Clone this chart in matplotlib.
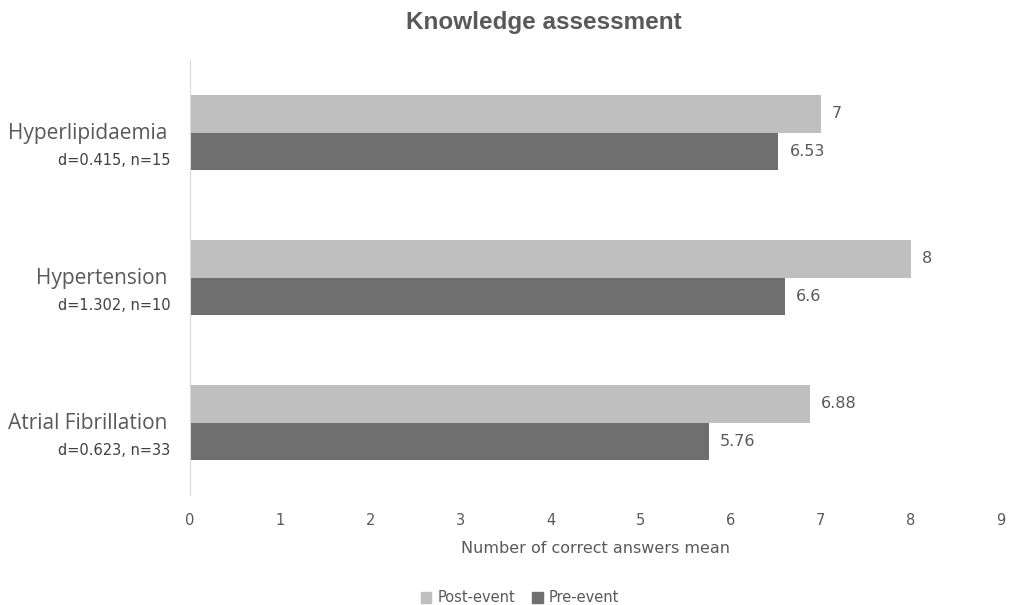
import matplotlib
matplotlib.use("Agg")
import matplotlib.pyplot as plt
from matplotlib.patches import Patch
from matplotlib import font_manager as fm
import numpy as np

categories = ["Atrial Fibrillation", "Hypertension", "Hyperlipidaemia"]
stats = ["d=0.623, n=33", "d=1.302, n=10", "d=0.415, n=15"]
post_event = [6.88, 8, 7]
pre_event = [5.76, 6.6, 6.53]
post_labels = ["6.88", "8", "7"]
pre_labels = ["5.76", "6.6", "6.53"]
xticks = list(range(0, 10))

TXT = "#595959"
C_POST = "#bfbfbf"
C_PRE = "#6f6f6f"

title_prop = None
for f in fm.findSystemFonts():
    if f.endswith("LiberationSans-Bold.ttf"):
        title_prop = fm.FontProperties(fname=f, size=17.5)
        break
if title_prop is None:
    title_prop = fm.FontProperties(family="DejaVu Sans", weight="bold", size=16)

fig = plt.figure(figsize=(10.11, 6.05), dpi=100)
ax = fig.add_axes([190/1011, 1-495/605, (1001-190)/1011, 435/605])

y = np.arange(len(categories))
h = 0.262
ax.barh(y + h/2, post_event, height=h, color=C_POST, label="Post-event")
ax.barh(y - h/2, pre_event, height=h, color=C_PRE, label="Pre-event")

for yi, v, lab in zip(y, post_event, post_labels):
    ax.annotate(lab, (v, yi + h/2), xytext=(8, 0), textcoords="offset points",
                va="center", ha="left", fontsize=11.5, color=TXT)
for yi, v, lab in zip(y, pre_event, pre_labels):
    ax.annotate(lab, (v, yi - h/2), xytext=(8, 0), textcoords="offset points",
                va="center", ha="left", fontsize=11.5, color=TXT)

ax.set_xlim(0, 9)
ax.set_ylim(-0.5, len(categories) - 0.5)
ax.set_xticks(xticks)
ax.set_xticklabels([str(t) for t in xticks], fontsize=10.5, color=TXT)
ax.set_yticks([])
ax.tick_params(axis="x", length=0, pad=13)
for s in ["top", "right", "bottom"]:
    ax.spines[s].set_visible(False)
ax.spines["left"].set_color("#d9d9d9")

for yi, cat, st in zip(y, categories, stats):
    ax.annotate(cat, (0, yi), xycoords=("axes fraction", "data"), xytext=(-16, -1),
                textcoords="offset points", ha="right", va="center",
                fontsize=15, color=TXT, family="Open Sans")
    ax.annotate(st, (0, yi), xycoords=("axes fraction", "data"), xytext=(-14, -20),
                textcoords="offset points", ha="right", va="center",
                fontsize=10.5, color="#404040", family="DejaVu Sans")

ax.set_xlabel("Number of correct answers mean", fontsize=11.5, color=TXT, labelpad=9)

fig.text(544/1011, 1-23/605, "Knowledge assessment", ha="center", va="center",
         fontproperties=title_prop, color=TXT)

handles = [Patch(color=C_POST, label="Post-event"), Patch(color=C_PRE, label="Pre-event")]
fig.legend(handles=handles, loc="center", bbox_to_anchor=(520/1011, 1-598/605), ncol=2,
           frameon=False, labelcolor=TXT, handlelength=0.7, handleheight=0.7,
           handletextpad=0.4, columnspacing=1.2, prop={"size": 10.5})

fig.savefig("out.png", dpi=100)
